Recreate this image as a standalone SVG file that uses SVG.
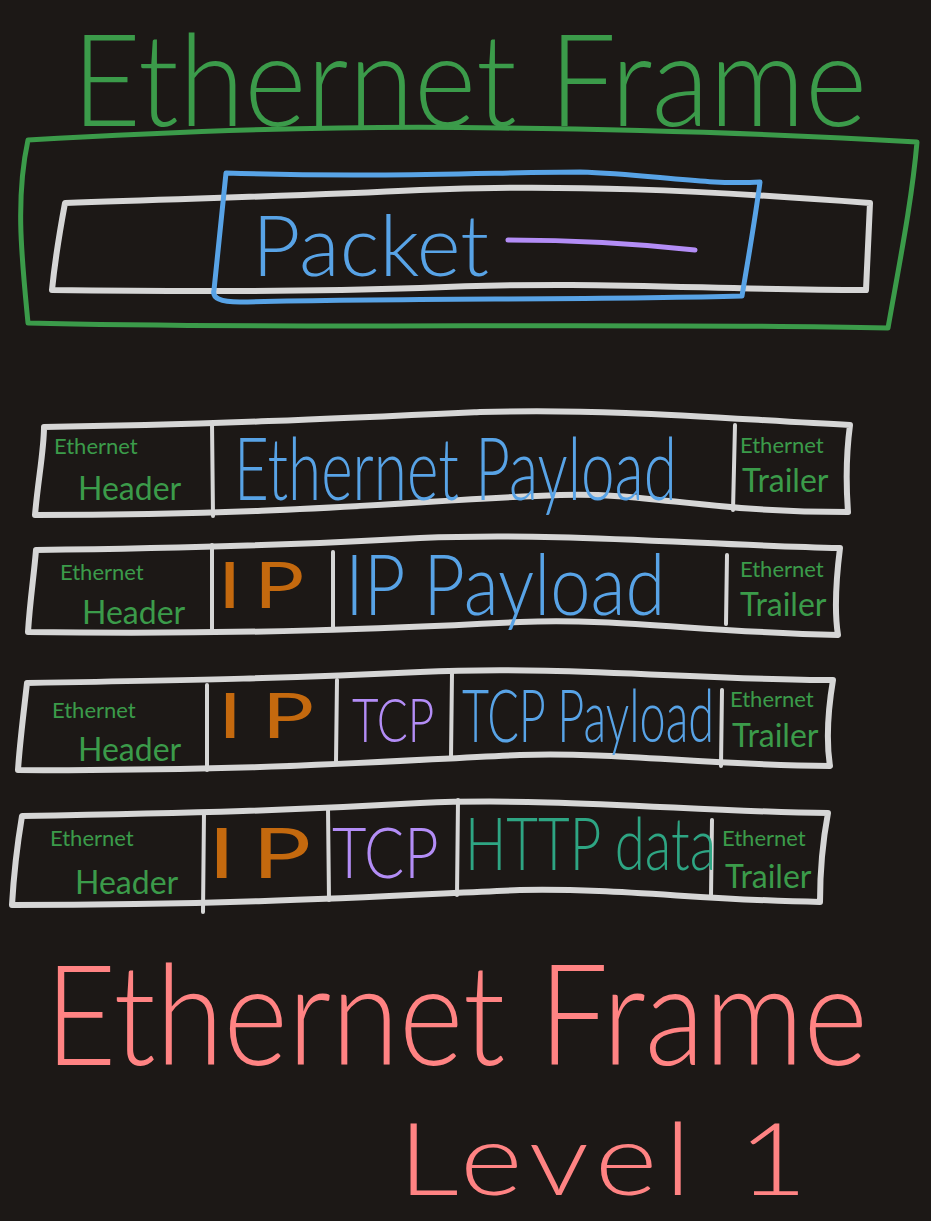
<svg xmlns="http://www.w3.org/2000/svg" width="931" height="1221" viewBox="0 0 931 1221">
<style>
.box{fill:none;stroke:#d6d6d6;stroke-width:6;stroke-linejoin:round;stroke-linecap:round}
.div{fill:none;stroke:#d6d6d6;stroke-width:4;stroke-linecap:round}
.t{font-family:Lato,"Open Sans","DejaVu Sans",sans-serif;font-weight:300}
.g{fill:#3b9b4a}.b{fill:#58a3e6}.p{fill:#b38df6}.o{fill:#c4690e;font-weight:400}.h{fill:#2ea583}.r{fill:#ff8383}
.sm{font-size:22px;font-weight:400}.md{font-size:32px;font-weight:400}
</style>
<rect width="931" height="1221" fill="#1c1816"/>

<g id="title">
<text class="t g" font-size="128" transform="translate(72,126) scale(0.93,1)">Ethernet Frame</text>
</g>

<g id="frame-outline">
<path d="M28,140 C200,130 350,125 500,128 C650,130 800,135 917,142 C912,200 900,260 888,328 C600,322 300,330 28,323 C22,260 15,200 28,140 Z" fill="none" stroke="#3b9b4a" stroke-width="5" stroke-linejoin="round"/>
</g>

<g id="frame-body">
<path class="box" d="M65,203 C200,198 300,196 420,190 C560,184 700,190 870,203 L866,290 C700,290 600,280 420,288 C300,292 200,292 52,290 C55,260 60,230 65,203 Z"/>
</g>

<g id="packet">
<path d="M226,173 C380,178 500,172 580,172 C650,174 700,185 760,182 C755,220 748,260 742,296 C600,300 400,298 240,302 C220,302 212,298 214,290 C218,250 222,210 226,173 Z" fill="none" stroke="#58a3e6" stroke-width="5" stroke-linejoin="round"/>
<text class="t b" x="252" y="276" font-size="84">Packet</text>
<path d="M508,240 C570,240 640,244 695,250" fill="none" stroke="#b38df6" stroke-width="5" stroke-linecap="round"/>
</g>

<g id="row1">
<path class="box" d="M44,427 C200,425 350,418 480,412 C620,408 740,420 850,425 C846,455 846,485 848,512 C700,512 650,492 560,495 C420,500 300,515 35,515 C38,480 44,450 44,427 Z"/>
<path class="div" d="M212,423 L213,516"/>
<path class="div" d="M735,425 L733,510"/>
<text class="t g sm" x="54" y="454">Ethernet</text>
<text class="t g md" x="78" y="500">Header</text>
<text class="t b" font-size="86" transform="translate(234,500) scale(0.70,1)">Ethernet Payload</text>
<text class="t g sm" x="740" y="453">Ethernet</text>
<text class="t g md" x="742" y="492">Trailer</text>
</g>

<g id="row2">
<path class="box" d="M36,550 C200,548 300,545 420,538 C560,532 700,545 840,548 C836,580 834,610 838,635 C700,632 620,618 520,622 C400,628 250,635 28,632 C30,600 34,575 36,550 Z"/>
<path class="div" d="M212,545 L212,632"/>
<path class="div" d="M333,552 L333,630"/>
<path class="div" d="M727,555 L726,624"/>
<text class="t g sm" x="60" y="580">Ethernet</text>
<text class="t g md" x="82" y="624">Header</text>
<text class="t o" font-size="64" transform="translate(218,608) scale(1.3,1)">I<tspan dx="10">P</tspan></text>
<text class="t b" font-size="84" transform="translate(345,615) scale(0.86,1)">IP Payload</text>
<text class="t g sm" x="740" y="577">Ethernet</text>
<text class="t g md" x="740" y="616">Trailer</text>
</g>

<g id="row3">
<path class="box" d="M27,683 C200,680 300,678 420,672 C560,665 700,680 833,680 C828,710 826,740 830,766 C700,765 620,752 520,755 C400,760 250,772 18,770 C20,740 24,710 27,683 Z"/>
<path class="div" d="M207,685 L207,770"/>
<path class="div" d="M337,680 L336,762"/>
<path class="div" d="M452,673 L451,758"/>
<path class="div" d="M722,690 L721,766"/>
<text class="t g sm" x="52" y="718">Ethernet</text>
<text class="t g md" x="78" y="761">Header</text>
<text class="t o" font-size="62" transform="translate(218,738) scale(1.4,1)">I<tspan dx="14">P</tspan></text>
<text class="t p" font-size="62" transform="translate(352,742) scale(0.74,1)">TCP</text>
<text class="t b" font-size="72" transform="translate(462,742) scale(0.65,1)">TCP Payload</text>
<text class="t g sm" x="730" y="707">Ethernet</text>
<text class="t g md" x="732" y="747">Trailer</text>
</g>

<g id="row4">
<path class="box" d="M22,816 C200,813 300,810 420,803 C560,797 700,812 828,813 C822,845 820,875 820,902 C700,900 620,888 520,890 C400,895 250,905 12,905 C14,870 18,840 22,816 Z"/>
<path class="div" d="M204,812 L203,912"/>
<path class="div" d="M328,808 L329,900"/>
<path class="div" d="M458,800 L457,895"/>
<path class="div" d="M712,820 L711,896"/>
<text class="t g sm" x="50" y="846">Ethernet</text>
<text class="t g md" x="75" y="894">Header</text>
<text class="t o" font-size="70" transform="translate(208,878) scale(1.4,1)">I<tspan dx="12">P</tspan></text>
<text class="t p" font-size="70" transform="translate(332,878) scale(0.85,1)">TCP</text>
<text class="t h" font-size="72" transform="translate(465,870) scale(0.76,1)">HTTP data</text>
<text class="t g sm" x="722" y="846">Ethernet</text>
<text class="t g md" x="725" y="888">Trailer</text>
</g>

<g id="caption">
<text class="t r" font-size="140" transform="translate(45,1065) scale(0.88,1)">Ethernet Frame</text>
<text class="t r" font-size="100" letter-spacing="6" transform="translate(398,1195) scale(1.2,1)">Level 1</text>
</g>
</svg>
